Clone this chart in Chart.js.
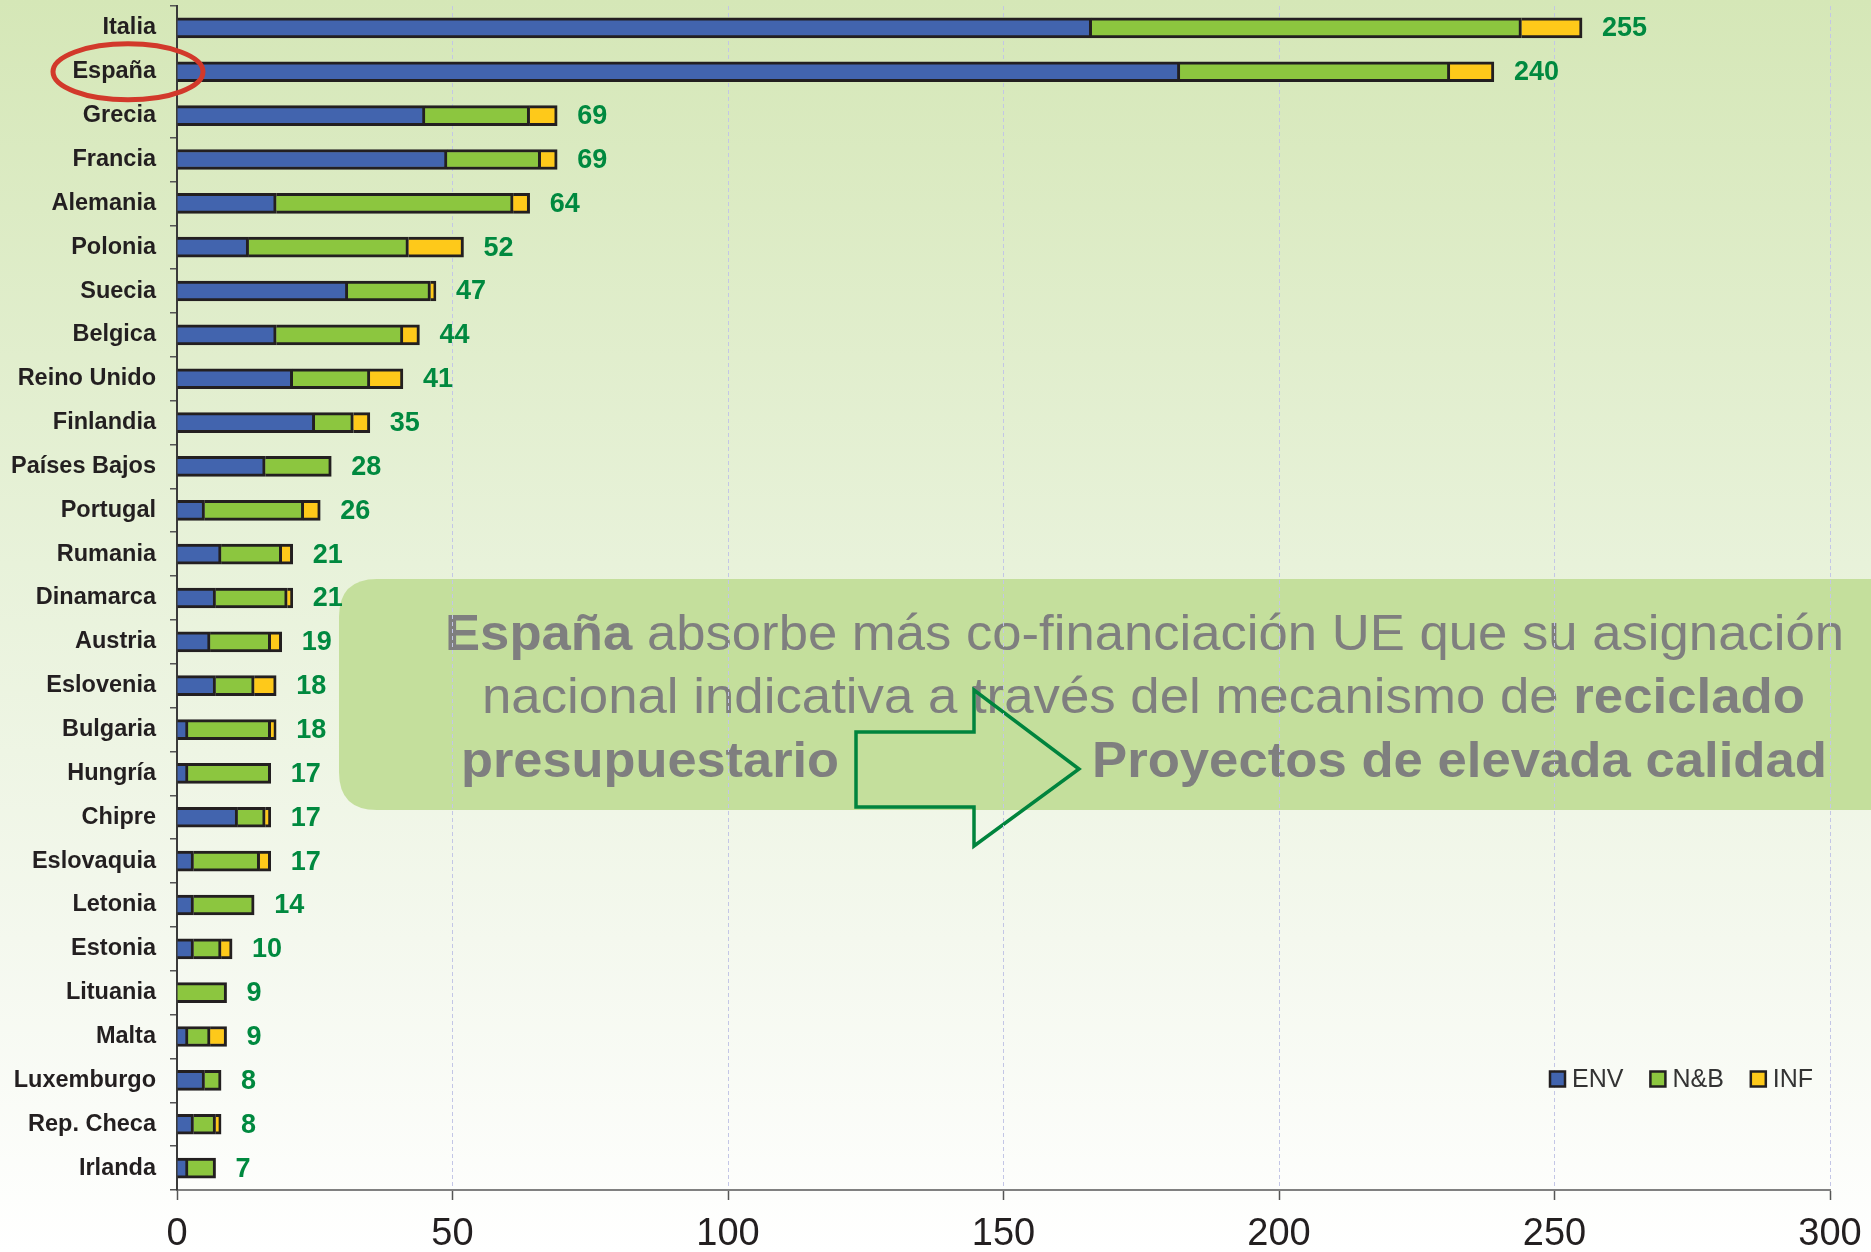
<!DOCTYPE html>
<html><head><meta charset="utf-8">
<script src="https://cdn.jsdelivr.net/npm/chart.js@4.4.1/dist/chart.umd.min.js"></script>
<style>html,body{margin:0;padding:0;background:#fff;overflow:hidden}#wrap{width:1871px;height:1252px;position:relative}</style>
</head><body><div id="wrap"><canvas id="c" width="1871" height="1252"></canvas></div>
<script>
const categories = ['Italia','España','Grecia','Francia','Alemania','Polonia','Suecia','Belgica','Reino Unido','Finlandia','Países Bajos','Portugal','Rumania','Dinamarca','Austria','Eslovenia','Bulgaria','Hungría','Chipre','Eslovaquia','Letonia','Estonia','Lituania','Malta','Luxemburgo','Rep. Checa','Irlanda'];
const envValues = [166,182,45,49,18,13,31,18,21,25,16,5,8,7,6,7,2,2,11,3,3,3,0,2,5,3,2];
const nbValues  = [78,49,19,17,43,29,15,23,14,7,12,18,11,13,11,7,15,15,5,12,11,5,9,4,3,4,5];
const infValues = [11,8,5,3,3,10,1,3,6,3,0,3,2,1,2,4,1,0,1,2,0,2,0,3,0,1,0];
const totalLabels = [255,240,69,69,64,52,47,44,41,35,28,26,21,21,19,18,18,17,17,17,14,10,9,9,8,8,7];
const xTickValues = [0,50,100,150,200,250,300];
const seriesNames = ['ENV','N&B','INF'];
const seriesColors = ['#4264ae','#8cc63f','#fec91a'];
const highlightCategory = 'España';

const NARROW = "'Liberation Sans Narrow','Arial Narrow','Liberation Sans',Arial,sans-serif";
const REG = "'Liberation Sans',Arial,sans-serif";

function drawRuns(ctx, runs, x0, x1, baseline, size){
  let total = 0;
  runs.forEach(r => { ctx.font = (r.b ? 'bold ' : '') + size + 'px ' + NARROW; r.w = ctx.measureText(r.t).width; total += r.w; });
  const sx = (x1 - x0) / total;
  ctx.save();
  ctx.translate(x0, baseline);
  ctx.scale(sx, 1);
  ctx.textBaseline = 'alphabetic';
  ctx.textAlign = 'left';
  ctx.fillStyle = '#7f7f7f';
  let x = 0;
  runs.forEach(r => { ctx.font = (r.b ? 'bold ' : '') + size + 'px ' + NARROW; ctx.fillText(r.t, x, 0); x += r.w; });
  ctx.restore();
}

const backgroundPlugin = {
  id: 'bg',
  beforeDraw(chart){
    const ctx = chart.ctx, W = chart.width, H = chart.height;
    ctx.save();
    const g = ctx.createLinearGradient(0, 0, 0, H);
    g.addColorStop(0, '#d5e7b7');
    g.addColorStop(0.45, '#e8f2da');
    g.addColorStop(0.75, '#f4f8ee');
    g.addColorStop(1, '#ffffff');
    ctx.fillStyle = g;
    ctx.fillRect(0, 0, W, H);
    // callout box
    const bx = 339, by = 579, bw = W - 339 + 10, bh = 231, r = 38;
    ctx.fillStyle = '#c4df9c';
    ctx.beginPath();
    ctx.moveTo(bx + r, by);
    ctx.lineTo(bx + bw, by);
    ctx.lineTo(bx + bw, by + bh);
    ctx.lineTo(bx + r, by + bh);
    ctx.quadraticCurveTo(bx, by + bh, bx, by + bh - r);
    ctx.lineTo(bx, by + r);
    ctx.quadraticCurveTo(bx, by, bx + r, by);
    ctx.fill();
    // text
    drawRuns(ctx, [{t:'España', b:true}, {t:' absorbe más co-financiación UE que su asignación', b:false}], 445, 1844, 650, 50);
    drawRuns(ctx, [{t:'nacional indicativa a través del mecanismo de ', b:false}, {t:'reciclado', b:true}], 482, 1805, 713, 50);
    drawRuns(ctx, [{t:'presupuestario', b:true}], 461, 839, 777, 50);
    drawRuns(ctx, [{t:'Proyectos de elevada calidad', b:true}], 1092, 1827, 777, 50);
    // arrow
    ctx.strokeStyle = '#00843d';
    ctx.lineWidth = 3.5;
    ctx.lineJoin = 'miter';
    ctx.beginPath();
    ctx.moveTo(856, 732);
    ctx.lineTo(974, 732);
    ctx.lineTo(974, 690);
    ctx.lineTo(1079, 769);
    ctx.lineTo(974, 846);
    ctx.lineTo(974, 807);
    ctx.lineTo(856, 807);
    ctx.closePath();
    ctx.stroke();
    ctx.restore();
  }
};

const totalsPlugin = {
  id: 'totals',
  afterDatasetsDraw(chart){
    const ctx = chart.ctx, xs = chart.scales.x, ys = chart.scales.y;
    ctx.save();
    ctx.font = 'bold 27px ' + REG;
    ctx.fillStyle = '#00893f';
    ctx.textAlign = 'left';
    ctx.textBaseline = 'middle';
    categories.forEach((c, i) => {
      const tot = envValues[i] + nbValues[i] + infValues[i];
      ctx.fillText(String(totalLabels[i]), xs.getPixelForValue(tot) + 20, ys.getPixelForValue(i) + 1);
    });
    ctx.restore();
  }
};

const overlayPlugin = {
  id: 'overlay',
  afterDraw(chart){
    const ctx = chart.ctx, ys = chart.scales.y;
    ctx.save();
    // legend
    ctx.font = '25px ' + REG;
    ctx.textBaseline = 'middle';
    ctx.textAlign = 'left';
    let x = 1550; const y = 1079;
    chart.data.datasets.forEach(ds => {
      ctx.fillStyle = ds.backgroundColor;
      ctx.fillRect(x, y - 7.5, 15, 15);
      ctx.strokeStyle = '#231f20';
      ctx.lineWidth = 2.5;
      ctx.strokeRect(x, y - 7.5, 15, 15);
      ctx.fillStyle = '#333333';
      ctx.fillText(ds.label, x + 22, y + 1);
      x += 22 + ctx.measureText(ds.label).width + 27;
    });
    // highlight ellipse
    const idx = categories.indexOf(highlightCategory);
    const cy = ys.getPixelForValue(idx);
    ctx.strokeStyle = '#d2392b';
    ctx.lineWidth = 5;
    ctx.beginPath();
    ctx.ellipse(128, cy, 75, 28, 0, 0, Math.PI * 2);
    ctx.stroke();
    ctx.restore();
  }
};

const datasets = [envValues, nbValues, infValues].map((vals, k) => ({
  label: seriesNames[k],
  data: vals,
  backgroundColor: seriesColors[k],
  borderColor: '#231f20',
  borderWidth: 3,
  borderSkipped: 'start',
  barThickness: 20
}));

new Chart(document.getElementById('c'), {
  type: 'bar',
  data: { labels: categories, datasets },
  options: {
    indexAxis: 'y',
    responsive: false,
    animation: false,
    devicePixelRatio: 1,
    layout: { padding: { top: 6, right: 41, left: 0, bottom: 0 } },
    plugins: { legend: { display: false }, tooltip: { enabled: false } },
    scales: {
      x: {
        stacked: true,
        min: 0, max: 300,
        afterBuildTicks(scale){ scale.ticks = xTickValues.map(v => ({ value: v })); },
        afterFit(scale){ scale.height = 62; scale.paddingLeft = 0; scale.paddingRight = 0; },
        ticks: { font: { family: REG, size: 38 }, color: '#231f20', padding: 12 },
        grid: { color: '#c3c6e6', lineWidth: 1, tickLength: 10, tickColor: '#555555', tickWidth: 1.5, tickBorderDash: [] },
        border: { color: '#808080', width: 2, dash: [4, 3] }
      },
      y: {
        stacked: true,
        afterFit(scale){ scale.width = 177; scale.paddingTop = 0; scale.paddingBottom = 0; },
        ticks: { font: { family: REG, size: 23.5, weight: 'bold' }, color: '#231f20', padding: 14 },
        grid: { drawOnChartArea: false, offset: true, tickLength: 7, color: '#555555', lineWidth: 1.5 },
        border: { color: '#3a3a3a', width: 2 }
      }
    }
  },
  plugins: [backgroundPlugin, totalsPlugin, overlayPlugin]
});
</script>
</body></html>
